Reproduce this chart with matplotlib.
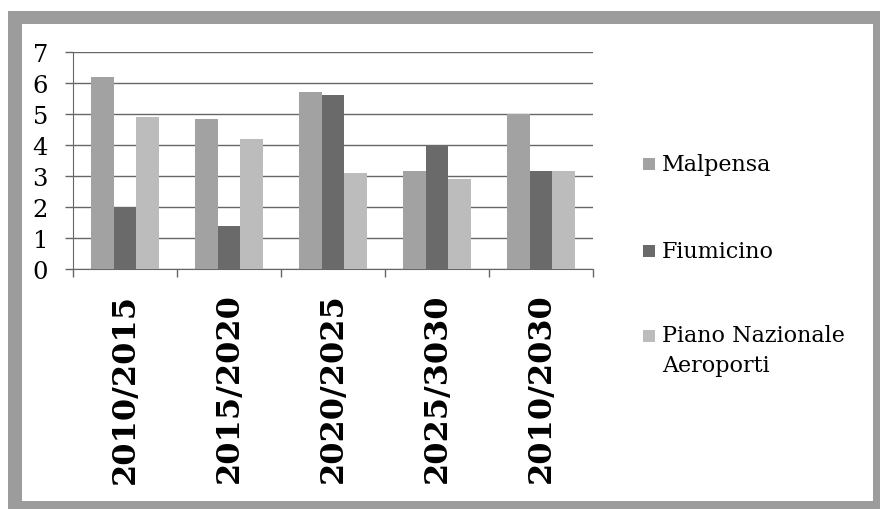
import matplotlib
matplotlib.use("Agg")
import matplotlib.pyplot as plt
from matplotlib.patches import Rectangle
import numpy as np

categories = ["2010/2015", "2015/2020", "2020/2025", "2025/3030", "2010/2030"]
series_names = ["Malpensa", "Fiumicino", "Piano Nazionale\nAeroporti"]
malpensa = [6.2, 4.85, 5.7, 3.15, 5.0]
fiumicino = [2.0, 1.4, 5.6, 4.0, 3.15]
piano_nazionale = [4.9, 4.2, 3.1, 2.9, 3.15]
colors = ["#a2a2a2", "#6a6a6a", "#bcbcbc"]
y_ticks = [0, 1, 2, 3, 4, 5, 6, 7]

W, H = 880, 510
fig = plt.figure(figsize=(W / 100, H / 100), dpi=100)
fig.patch.set_facecolor("white")

def fx(px):
    return px / W

def fy(py):
    return 1 - py / H

# scanned frame
fig.patches.append(Rectangle((fx(8), 0), fx(880) - fx(8), fy(12), transform=fig.transFigure,
                             facecolor="#9c9c9c", edgecolor="none", zorder=-10))
fig.patches.append(Rectangle((fx(22), fy(502)), fx(873) - fx(22), fy(25) - fy(502),
                             transform=fig.transFigure, facecolor="white", edgecolor="none",
                             zorder=-9))

ax = fig.add_axes([fx(73), fy(270), fx(593) - fx(73), fy(53) - fy(270)])
ax.set_zorder(5)
ax.set_facecolor("none")

x = np.arange(len(categories))
bw = 0.22
for i, (vals, c) in enumerate(zip([malpensa, fiumicino, piano_nazionale], colors)):
    ax.bar(x + (i - 1) * bw, vals, width=bw, color=c, edgecolor="none", zorder=3)

grid_c = "#666666"
ax.set_ylim(0, 7)
ax.set_xlim(-0.5, len(categories) - 0.5)
ax.set_yticks(y_ticks)
ax.set_yticklabels([str(v) for v in y_ticks], fontsize=17.5, family="DejaVu Serif")
ax.yaxis.grid(True, color=grid_c, linewidth=1.0, zorder=1)
ax.set_axisbelow(True)

ax.set_xticks(x)
ax.set_xticklabels(categories, rotation=90, fontsize=23, family="DejaVu Serif",
                   fontweight="bold")
ax.set_xticks(np.arange(len(categories) + 1) - 0.5, minor=True)
ax.tick_params(axis="x", which="major", length=0, pad=17)
ax.tick_params(axis="x", which="minor", length=6, color=grid_c, direction="out", width=1.0)
ax.tick_params(axis="y", length=6, color=grid_c, width=1.0, pad=12)

for s in ["top", "right"]:
    ax.spines[s].set_visible(False)
ax.spines["left"].set_color(grid_c)
ax.spines["bottom"].set_color(grid_c)

# legend
leg_y = [165, 252, 337]
for name, c, yy in zip(series_names, colors, leg_y):
    fig.patches.append(Rectangle((fx(643), fy(yy + 6)), fx(12), 12 / H,
                                 transform=fig.transFigure, facecolor=c, edgecolor="none"))
    if "\n" in name:
        fig.text(fx(662), fy(yy - 12), name, fontsize=16, family="DejaVu Serif",
                 va="top", ha="left", linespacing=1.45)
    else:
        fig.text(fx(662), fy(yy), name, fontsize=16, family="DejaVu Serif",
                 va="center", ha="left")

fig.savefig("out.png", dpi=100)
